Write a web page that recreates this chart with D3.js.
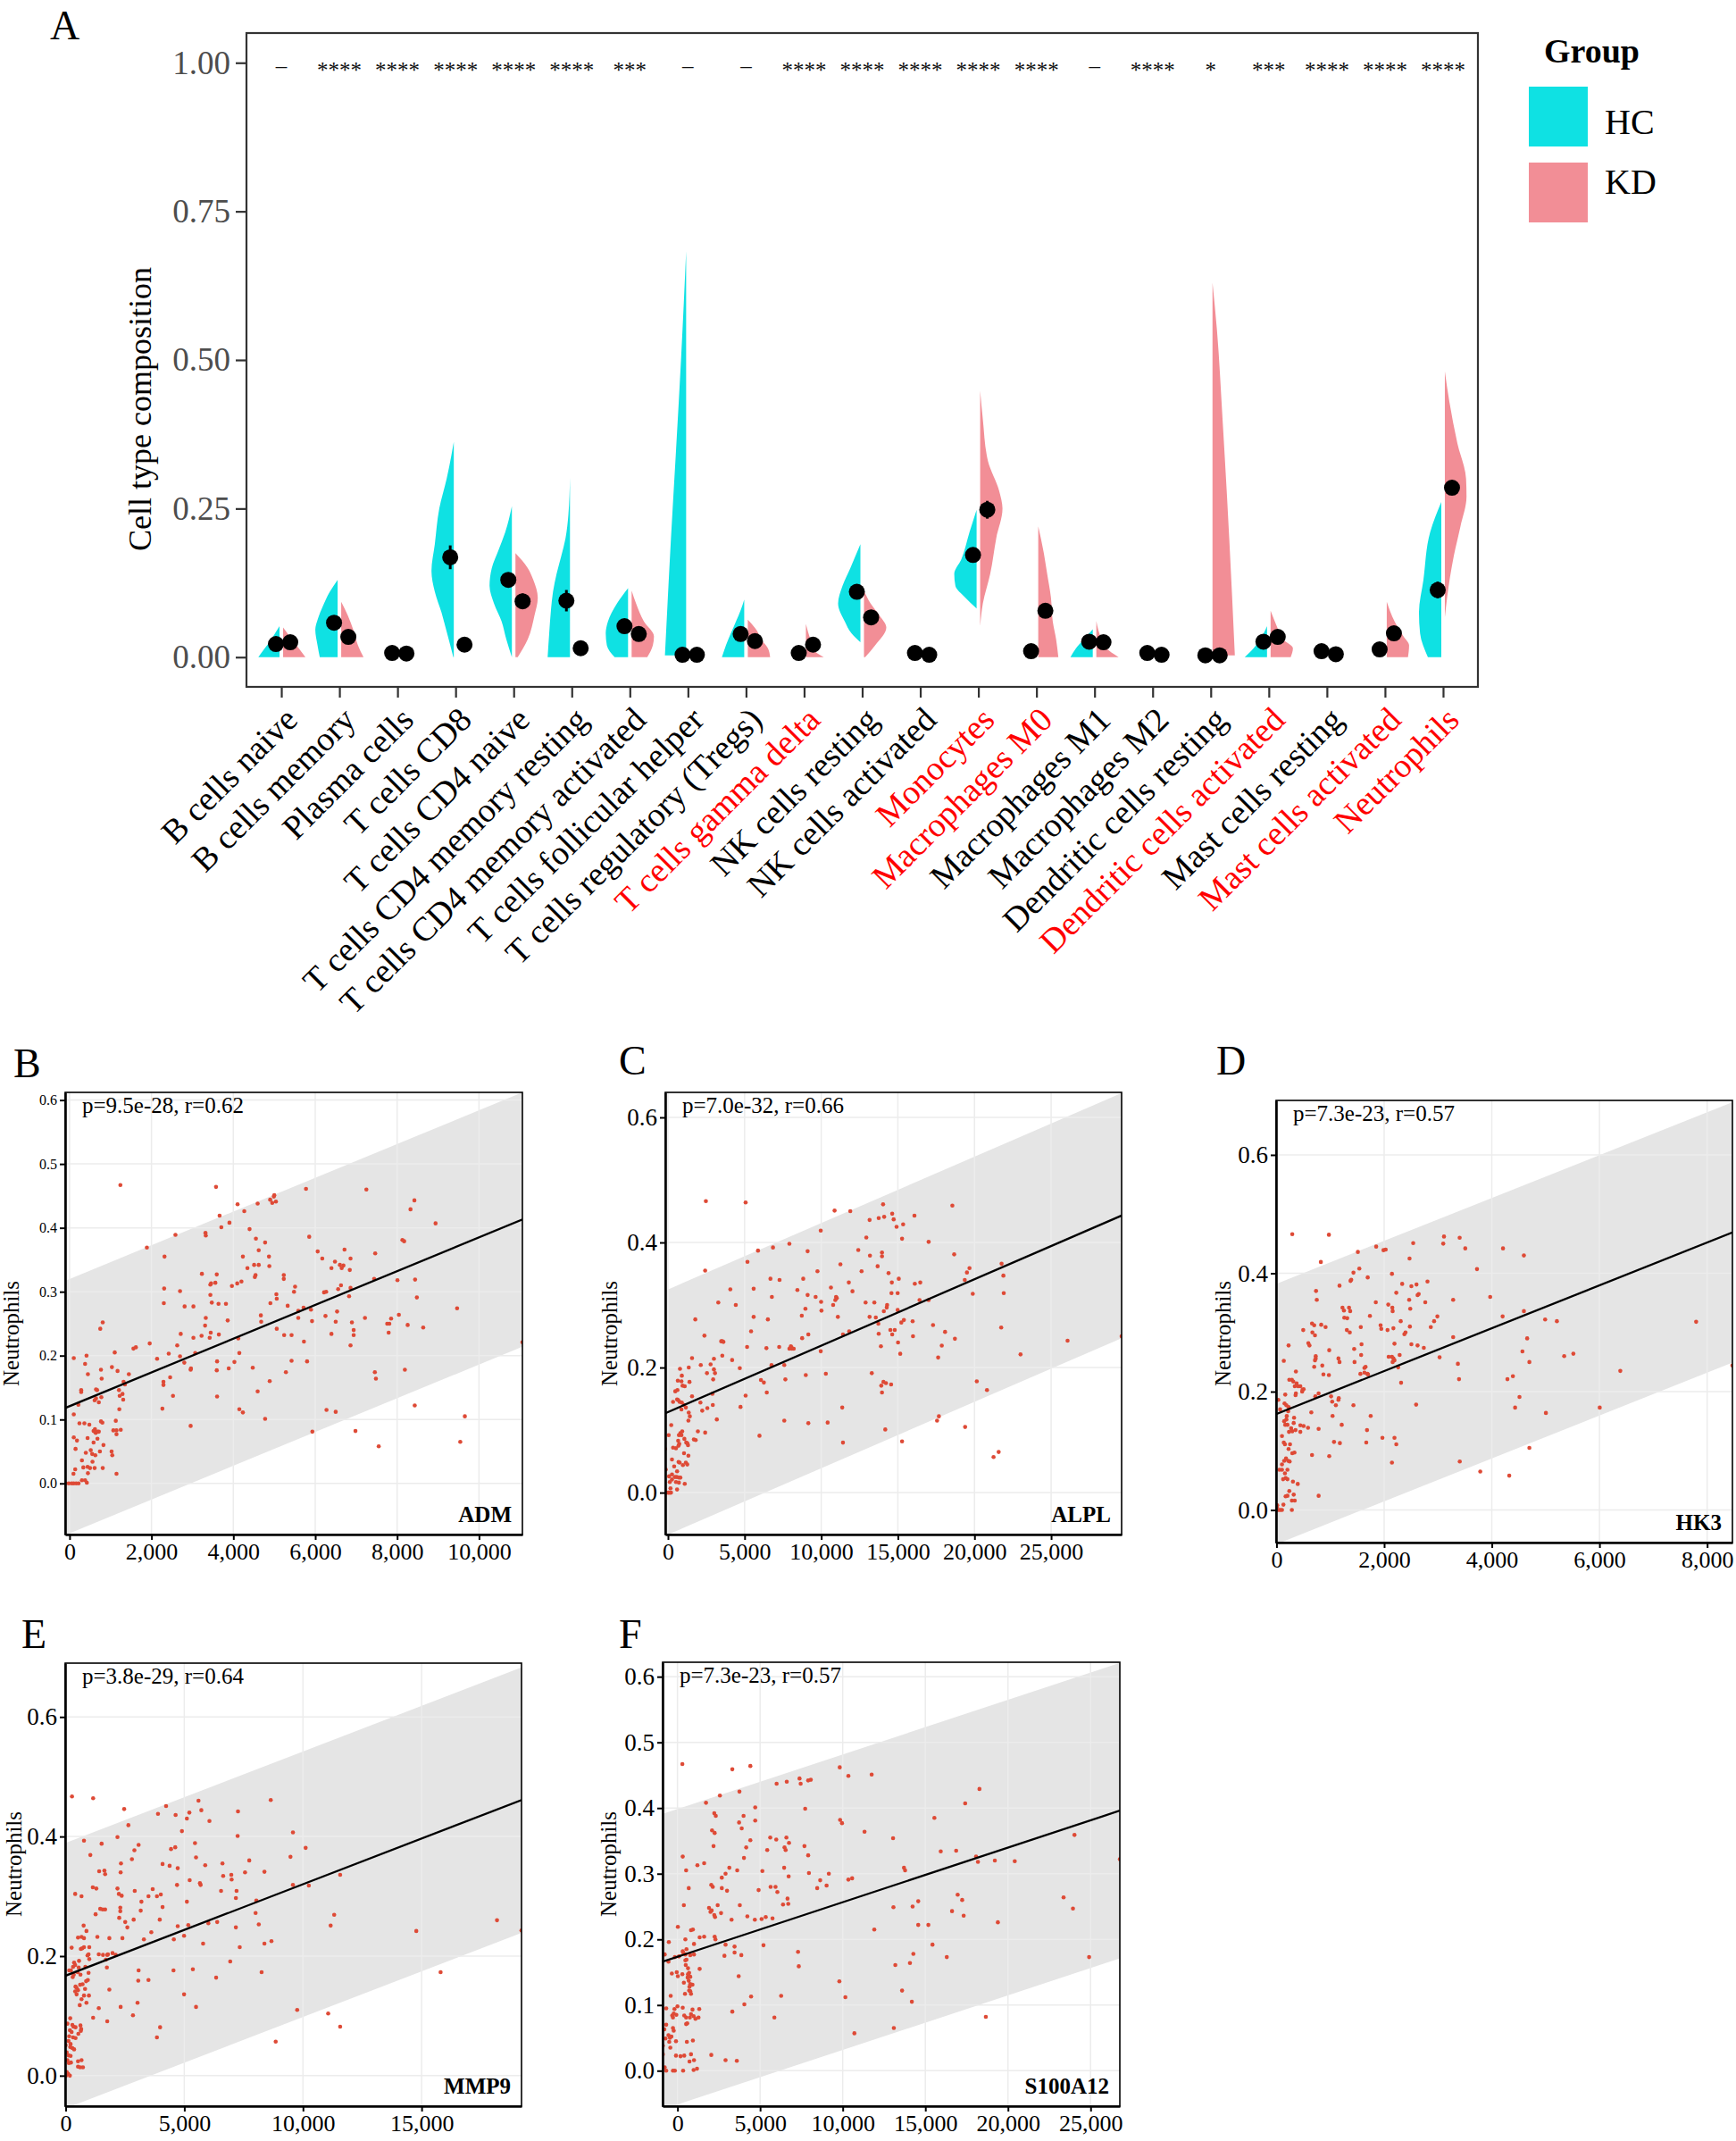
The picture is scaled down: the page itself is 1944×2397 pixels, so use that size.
<!DOCTYPE html>
<html>
<head>
<meta charset="utf-8">
<script src="https://cdn.jsdelivr.net/npm/d3@7"></script>
<style>
  body { margin: 0; background: #fff; }
  svg { display: block; }
  text { font-family: "Liberation Serif", "Times New Roman", serif; }
</style>
</head>
<body>
<svg id="fig" width="1944" height="2397"></svg>
<script>
// ---- panel A data ----
const cats = ["B cells naive", "B cells memory", "Plasma cells", "T cells CD8", "T cells CD4 naive",
  "T cells CD4 memory resting", "T cells CD4 memory activated", "T cells follicular helper",
  "T cells regulatory (Tregs)", "T cells gamma delta", "NK cells resting", "NK cells activated",
  "Monocytes", "Macrophages M0", "Macrophages M1", "Macrophages M2", "Dendritic cells resting",
  "Dendritic cells activated", "Mast cells resting", "Mast cells activated", "Neutrophils"];
const redCats = ["T cells gamma delta", "Monocytes", "Macrophages M0", "Dendritic cells activated",
  "Mast cells activated", "Neutrophils"];
const sigLabels = ["–", "****", "****", "****", "****", "****", "***", "–", "–", "****", "****",
  "****", "****", "****", "–", "****", "*", "***", "****", "****", "****"];
const groups = ["HC", "KD"];
const yTicksA = [0, 0.25, 0.5, 0.75, 1];

const hcMean = [0.022, 0.058, 0.007, 0.168, 0.130, 0.095, 0.052, 0.004, 0.039, 0.007, 0.110,
  0.007, 0.172, 0.010, 0.026, 0.007, 0.003, 0.026, 0.010, 0.013, 0.113];
const kdMean = [0.025, 0.034, 0.006, 0.021, 0.094, 0.015, 0.039, 0.004, 0.027, 0.021, 0.067,
  0.004, 0.248, 0.078, 0.025, 0.004, 0.003, 0.034, 0.005, 0.040, 0.285];
const hcErr = [0.003, 0.006, 0.001, 0.02, 0.012, 0.018, 0.005, 0.001, 0.005, 0.001, 0.008,
  0.001, 0.01, 0.001, 0.003, 0.001, 0.001, 0.003, 0.001, 0.002, 0.014];
const kdErr = [0.003, 0.004, 0.001, 0.003, 0.013, 0.002, 0.004, 0.001, 0.003, 0.003, 0.005,
  0.001, 0.015, 0.01, 0.003, 0.001, 0.001, 0.004, 0.001, 0.004, 0.012];

// half-violin outlines: [value, relative width]
const hcDens = [
  [[0, 0.95], [0.012, 0.72], [0.025, 0.45], [0.04, 0.2], [0.052, 0]],
  [[0, 0.8], [0.02, 0.9], [0.046, 1], [0.065, 0.88], [0.084, 0.68], [0.11, 0.35], [0.13, 0]],
  [],
  [[0, 0.02], [0.04, 0.3], [0.075, 0.55], [0.11, 0.85], [0.145, 1], [0.19, 0.85], [0.25, 0.65], [0.3, 0.32], [0.362, 0]],
  [[0, 0], [0.03, 0.25], [0.06, 0.46], [0.09, 0.8], [0.12, 1], [0.15, 0.9], [0.18, 0.6], [0.21, 0.3], [0.254, 0]],
  [[0, 1], [0.04, 0.93], [0.08, 0.85], [0.11, 0.76], [0.14, 0.6], [0.17, 0.39], [0.2, 0.2], [0.24, 0.07], [0.302, 0]],
  [[0, 0.6], [0.02, 0.95], [0.04, 1], [0.06, 0.9], [0.09, 0.5], [0.116, 0]],
  [[0.003, 0.95], [0.1, 0.82], [0.2, 0.68], [0.35, 0.45], [0.5, 0.23], [0.6, 0.1], [0.683, 0]],
  [[0, 1], [0.02, 0.82], [0.04, 0.6], [0.06, 0.37], [0.08, 0.15], [0.097, 0]],
  [],
  [[0.025, 0], [0.04, 0.4], [0.06, 0.7], [0.09, 1], [0.12, 0.8], [0.15, 0.45], [0.19, 0]],
  [],
  [[0.082, 0], [0.1, 0.5], [0.12, 0.95], [0.14, 1], [0.165, 0.68], [0.21, 0.32], [0.248, 0]],
  [],
  [[0, 1], [0.015, 0.75], [0.03, 0.4], [0.047, 0]],
  [],
  [],
  [[0, 1], [0.015, 0.6], [0.03, 0.3], [0.052, 0]],
  [],
  [],
  [[0, 0.6], [0.04, 0.95], [0.075, 1], [0.13, 0.8], [0.21, 0.5], [0.261, 0]]
];
const kdDens = [
  [[0, 1], [0.015, 0.7], [0.03, 0.4], [0.05, 0]],
  [[0, 1], [0.02, 0.75], [0.045, 0.55], [0.07, 0.3], [0.093, 0]],
  [],
  [],
  [[0, 0.1], [0.03, 0.55], [0.07, 0.85], [0.1, 1], [0.13, 0.8], [0.15, 0.55], [0.175, 0]],
  [],
  [[0, 0.7], [0.02, 0.95], [0.035, 1], [0.06, 0.55], [0.09, 0.2], [0.112, 0]],
  [],
  [[0, 1], [0.015, 0.9], [0.03, 0.6], [0.045, 0.4], [0.063, 0]],
  [[0, 0.8], [0.01, 0.4], [0.03, 0.2], [0.056, 0]],
  [[0, 0.05], [0.02, 0.5], [0.05, 1], [0.07, 0.7], [0.09, 0.3], [0.112, 0]],
  [],
  [[0.052, 0], [0.09, 0.12], [0.14, 0.45], [0.2, 0.72], [0.25, 1], [0.28, 0.85], [0.33, 0.35], [0.4, 0.12], [0.448, 0]],
  [[0, 0.9], [0.03, 0.8], [0.06, 0.65], [0.1, 0.57], [0.14, 0.4], [0.175, 0.25], [0.22, 0]],
  [[0, 1], [0.01, 0.6], [0.03, 0.25], [0.061, 0]],
  [],
  [[0.003, 1], [0.2, 0.75], [0.4, 0.45], [0.55, 0.2], [0.63, 0]],
  [[0, 0.9], [0.015, 1], [0.03, 0.55], [0.05, 0.3], [0.078, 0]],
  [],
  [[0, 0.95], [0.02, 1], [0.035, 0.75], [0.06, 0.35], [0.093, 0]],
  [[0.067, 0], [0.1, 0.1], [0.17, 0.4], [0.22, 0.7], [0.27, 0.97], [0.3, 0.95], [0.36, 0.56], [0.43, 0.2], [0.481, 0]]
];

// ---- scatter panels: [expression, Neutrophils] ----
const admPts = [[1241,.467],[3577,.464],[5775,.461],[7249,.46],[8422,.443],[8327,.429],[4900,.444],[4990,.449],[5000,.451],[4950,.439],[5040,.441],[4103,.437],[4594,.438],[4267,.426],[3664,.419],[3707,.401],[3905,.408],[4396,.398],[8939,.407],[3319,.392],[3327,.388],[2586,.389],[1888,.369],[4551,.383],[4776,.377],[5853,.386],[8129,.381],[8172,.379],[2319,.355],[4233,.355],[4870,.355],[4620,.365],[6060,.363],[6715,.366],[6172,.352],[6862,.352],[7465,.36],[4344,.337],[4508,.342],[4620,.342],[4879,.34],[6482,.347],[6603,.342],[6689,.341],[6646,.337],[6396,.337],[6844,.334],[3232,.328],[3595,.327],[4542,.326],[4525,.323],[5232,.326],[5232,.32],[8439,.319],[8008,.318],[7439,.32],[3457,.313],[3439,.311],[3560,.314],[4198,.316],[4095,.313],[3965,.309],[5508,.308],[6629,.31],[6862,.306],[2310,.305],[2698,.301],[6267,.3],[6215,.299],[5482,.3],[6560,.304],[6827,.293],[8482,.291],[5051,.296],[3439,.295],[2302,.282],[3474,.283],[3638,.281],[3819,.281],[2810,.277],[3025,.277],[4905,.282],[5327,.278],[5060,.289],[9465,.274],[5896,.272],[5586,.27],[5715,.275],[6534,.269],[8043,.264],[3327,.259],[5586,.259],[6250,.262],[4672,.263],[7853,.258],[7215,.259],[6896,.252],[7758,.25],[7810,.25],[4680,.253],[6500,.253],[3862,.255],[5922,.254],[810,.252],[3310,.247],[8258,.248],[8637,.244],[5060,.242],[6939,.24],[750,.242],[6396,.234],[7793,.236],[2715,.234],[3448,.236],[3646,.233],[5241,.232],[5422,.232],[3224,.231],[3422,.228],[3025,.228],[6939,.232],[4120,.227],[5724,.222],[6862,.216],[2629,.216],[1620,.213],[1560,.211],[1957,.219],[4146,.204],[3069,.204],[2422,.203],[1103,.205],[2698,.199],[414,.2],[103,.196],[2138,.195],[3603,.191],[5422,.192],[5801,.191],[2802,.189],[4026,.19],[379,.187],[4474,.181],[8189,.178],[3888,.18],[1034,.182],[767,.178],[2957,.178],[2965,.18],[1172,.176],[3595,.177],[7456,.174],[7482,.164],[5284,.174],[448,.171],[1448,.171],[784,.164],[2457,.166],[4888,.16],[1319,.159],[2293,.159],[2293,.154],[672,.146],[1353,.155],[284,.146],[284,.143],[646,.147],[1207,.146],[1293,.14],[1224,.137],[2526,.137],[3603,.136],[646,.133],[776,.135],[612,.13],[1310,.131],[715,.127],[4594,.144],[215,.123],[1215,.116],[2267,.117],[4146,.116],[4233,.111],[6275,.115],[6500,.112],[8430,.122],[103,.108],[9654,.105],[4776,.101],[767,.097],[802,.095],[1129,.098],[241,.094],[362,.094],[483,.092],[2957,.09],[620,.085],[1069,.083],[1146,.083],[1250,.084],[103,.072],[440,.071],[638,.079],[681,.081],[715,.081],[586,.082],[1146,.077],[5930,.081],[6982,.082],[181,.067],[586,.064],[681,.07],[146,.054],[9542,.065],[7551,.058],[828,.06],[397,.048],[517,.052],[552,.046],[629,.044],[741,.05],[1026,.05],[1043,.044],[302,.036],[560,.034],[336,.025],[440,.026],[500,.024],[612,.024],[810,.024],[138,.022],[95,.015],[448,.016],[1146,.015],[302,.005],[379,.005],[422,.001],[-100,0],[-20,0],[50,0],[100,0],[160,0],[220,0],[11060,.221]];

const alplPts = [[2474,.466],[5067,.464],[18556,.459],[14036,.461],[10872,.451],[11895,.45],[14631,.446],[14107,.441],[14727,.437],[16082,.443],[13156,.436],[13751,.439],[14916,.425],[15345,.429],[9968,.419],[15274,.406],[12942,.408],[17010,.401],[6852,.392],[7922,.398],[5876,.387],[9112,.386],[12418,.388],[13965,.384],[13965,.378],[18675,.381],[13180,.379],[5186,.369],[11252,.365],[13680,.362],[21768,.366],[19675,.359],[2427,.355],[9754,.354],[12633,.354],[14393,.351],[19508,.352],[21887,.347],[6686,.342],[8826,.342],[7280,.34],[15060,.342],[19365,.34],[11800,.336],[16106,.334],[16463,.336],[14607,.336],[4068,.325],[8445,.324],[10634,.328],[12038,.322],[5591,.326],[21910,.319],[19889,.318],[14988,.319],[14583,.319],[9112,.316],[9635,.313],[10967,.313],[11015,.311],[10920,.308],[6780,.313],[9992,.305],[12895,.304],[13466,.304],[10777,.3],[17010,.308],[16415,.308],[3283,.304],[4425,.3],[10015,.291],[14988,.292],[8969,.294],[14298,.3],[14274,.296],[14084,.29],[8731,.283],[5591,.281],[11086,.281],[13156,.281],[13561,.28],[15393,.276],[15226,.272],[6519,.277],[1784,.277],[15964,.274],[17296,.268],[21744,.264],[13727,.27],[5424,.258],[11824,.258],[11419,.253],[14512,.26],[14797,.26],[14631,.253],[13751,.254],[18080,.257],[15988,.25],[2379,.251],[9159,.253],[18723,.246],[8755,.247],[26074,.243],[29600,.25],[3545,.242],[3473,.242],[3616,.241],[5162,.233],[6423,.231],[7256,.233],[8017,.234],[8065,.232],[8089,.23],[8207,.23],[7922,.23],[9968,.226],[13894,.234],[15012,.24],[17867,.235],[23005,.221],[15155,.222],[17629,.216],[3545,.219],[4187,.212],[1570,.215],[2141,.204],[2783,.205],[6757,.204],[4687,.199],[7589,.204],[1356,.2],[785,.198],[2998,.214],[2998,.197],[3069,.191],[2545,.191],[8993,.188],[10301,.19],[13299,.191],[904,.187],[642,.179],[880,.178],[2950,.181],[7660,.181],[6067,.18],[6257,.176],[20150,.178],[14226,.175],[14060,.177],[14560,.173],[13918,.171],[13965,.16],[20816,.164],[950,.171],[1094,.17],[1404,.177],[476,.162],[619,.164],[666,.148],[595,.149],[333,.145],[1570,.154],[2902,.158],[2117,.144],[2236,.131],[2926,.14],[6447,.16],[5067,.155],[761,.145],[904,.144],[1047,.14],[1166,.136],[880,.133],[2569,.135],[4734,.137],[11371,.136],[1356,.128],[1427,.122],[1332,.115],[3188,.117],[7589,.115],[9159,.111],[10420,.112],[17558,.115],[17677,.122],[19389,.105],[14179,.101],[214,.108],[809,.095],[880,.092],[714,.092],[48,.092],[928,.098],[1951,.098],[2427,.096],[5971,.091],[1689,.085],[1808,.084],[1071,.086],[1190,.08],[1261,.079],[666,.083],[738,.078],[690,.075],[-238,.079],[1308,.076],[15274,.082],[11419,.08],[333,.072],[523,.071],[1047,.063],[1332,.059],[-190,.07],[21578,.065],[21245,.057],[690,.049],[761,.048],[1166,.048],[1261,.045],[975,.044],[262,.053],[404,.042],[595,.034],[-143,.037],[262,.029],[452,.025],[571,.025],[714,.024],[809,.024],[71,.026],[262,.021],[523,.017],[1094,.014],[714,.016],[595,.005],[119,.017],[166,.007],[-100,0],[0,0],[60,0],[130,0],[200,0]];

const hk3Pts = [[293,.466],[974,.465],[3403,.46],[3112,.462],[1852,.445],[1988,.439],[2029,.44],[2540,.451],[3098,.45],[3507,.442],[4208,.442],[4596,.43],[1512,.436],[2472,.425],[824,.419],[1539,.408],[1430,.401],[3725,.407],[2145,.399],[1695,.393],[1389,.389],[1375,.387],[2335,.382],[2601,.381],[2506,.378],[2805,.386],[1171,.379],[735,.37],[749,.355],[1845,.351],[2764,.351],[2465,.355],[3282,.355],[3970,.36],[2077,.347],[2642,.365],[2621,.363],[2226,.367],[1253,.337],[1348,.342],[1226,.342],[1260,.325],[1314,.324],[1369,.336],[1736,.328],[2152,.342],[2158,.336],[2485,.34],[1934,.312],[2063,.304],[2172,.307],[2308,.319],[2478,.31],[1566,.309],[831,.313],[912,.309],[660,.315],[701,.312],[497,.304],[1307,.304],[1362,.3],[1947,.306],[2376,.297],[2397,.3],[2867,.309],[2928,.319],[2989,.327],[4201,.327],[4596,.336],[4991,.322],[5209,.319],[3282,.292],[4657,.29],[667,.3],[715,.295],[592,.282],[613,.278],[1580,.28],[2506,.28],[2192,.281],[2621,.278],[2737,.274],[1443,.272],[980,.27],[225,.278],[1573,.262],[2084,.259],[2145,.259],[2172,.256],[2192,.253],[2288,.262],[3030,.258],[4569,.268],[5345,.26],[5515,.264],[729,.26],[729,.256],[715,.253],[701,.242],[1151,.256],[1171,.25],[1450,.25],[136,.252],[851,.244],[1655,.242],[1634,.24],[1689,.23],[2158,.25],[2261,.241],[4698,.25],[3370,.247],[1634,.232],[1702,.229],[361,.234],[872,.229],[974,.228],[1559,.23],[6387,.235],[3391,.221],[4290,.221],[4392,.226],[238,.22],[286,.22],[313,.217],[340,.209],[402,.209],[374,.214],[443,.209],[504,.204],[483,.203],[477,.2],[361,.197],[354,.194],[163,.195],[783,.197],[722,.192],[1015,.192],[1035,.183],[1151,.186],[1157,.189],[1103,.177],[1430,.177],[2315,.215],[2594,.178],[4514,.191],[4433,.173],[6005,.173],[5005,.164],[34,.186],[68,.17],[150,.18],[184,.177],[225,.174],[218,.167],[191,.159],[647,.165],[327,.156],[320,.147],[143,.15],[163,.144],[204,.144],[184,.153],[443,.143],[443,.132],[504,.142],[586,.139],[272,.138],[293,.133],[354,.135],[232,.132],[783,.137],[1042,.159],[1212,.144],[1682,.135],[2192,.122],[1069,.115],[1178,.113],[1668,.114],[2226,.111],[102,.125],[136,.114],[157,.111],[252,.111],[293,.096],[334,.097],[225,.103],[177,.087],[218,.083],[245,.082],[143,.083],[102,.077],[102,.068],[54,.068],[204,.068],[157,.062],[170,.054],[204,.052],[123,.052],[306,.048],[395,.044],[238,.032],[170,.023],[204,.024],[286,.016],[340,.016],[320,.026],[783,.024],[660,.093],[980,.091],[1750,.159],[1968,.122],[2145,.08],[3405,.082],[3786,.065],[4324,.058],[4698,.105],[7796,.318],[8470,.244],[14,.008],[34,0],[68,0],[102,0],[286,0],[129,.009],[7,.005]];

const mmp9Pts = [[267,.467],[1158,.464],[8643,.461],[5598,.46],[4232,.451],[2465,.446],[5212,.44],[5717,.444],[7262,.442],[3891,.438],[4633,.436],[5108,.43],[6059,.426],[2643,.419],[4900,.409],[9578,.407],[7247,.401],[2183,.399],[772,.393],[1515,.388],[3074,.386],[5450,.389],[4618,.382],[4440,.379],[2896,.377],[10113,.381],[1040,.369],[5494,.365],[9474,.366],[2792,.362],[7737,.36],[4084,.354],[4381,.351],[2331,.355],[6608,.355],[5881,.352],[4722,.347],[8376,.341],[7559,.34],[1411,.342],[1633,.343],[1663,.337],[2317,.34],[5227,.327],[5658,.322],[5687,.319],[4693,.319],[6638,.334],[6980,.336],[6994,.328],[11568,.336],[9578,.319],[10247,.318],[7202,.309],[7173,.297],[1143,.315],[1292,.313],[2183,.313],[2911,.309],[2242,.304],[2361,.301],[3668,.312],[4010,.303],[3846,.3],[3490,.3],[5108,.291],[3193,.291],[6549,.309],[8034,.293],[401,.304],[668,.3],[1262,.27],[1663,.278],[1559,.278],[1455,.279],[2302,.281],[2302,.275],[3163,.276],[4084,.282],[2257,.264],[2866,.261],[2510,.257],[2599,.248],[8004,.272],[7173,.248],[8138,.253],[11167,.251],[11316,.269],[18177,.26],[14776,.242],[19210,.243],[4722,.25],[5168,.252],[6014,.255],[6386,.257],[3965,.261],[3609,.24],[757,.251],[520,.231],[668,.232],[772,.23],[876,.242],[1336,.232],[1841,.23],[2391,.23],[995,.215],[698,.213],[772,.215],[639,.212],[252,.214],[921,.201],[995,.195],[965,.203],[3297,.228],[4559,.228],[4990,.234],[5792,.221],[7336,.215],[6935,.191],[8376,.221],[8672,.225],[2109,.202],[1975,.205],[1574,.202],[1752,.202],[1782,.203],[1693,.194],[1737,.181],[1396,.203],[564,.192],[356,.189],[401,.185],[312,.182],[223,.176],[549,.181],[831,.182],[505,.173],[624,.169],[965,.172],[148,.176],[297,.165],[341,.169],[713,.153],[861,.158],[935,.16],[416,.149],[520,.143],[460,.136],[668,.128],[772,.134],[980,.134],[401,.141],[460,.147],[594,.118],[876,.122],[817,.145],[609,.152],[1396,.113],[1841,.144],[3074,.176],[3490,.16],[3059,.159],[4544,.176],[5360,.178],[6341,.164],[8257,.173],[4990,.136],[5494,.115],[2317,.115],[3029,.122],[1158,.097],[1752,.091],[2836,.101],[9756,.11],[11063,.104],[11568,.082],[8851,.057],[15800,.173],[3846,.064],[3980,.081],[193,.096],[282,.085],[178,.076],[252,.073],[416,.081],[327,.082],[535,.07],[653,.078],[624,.084],[639,.075],[74,.087],[312,.064],[416,.063],[148,.066],[119,.058],[208,.053],[0,.051],[193,.048],[282,.046],[356,.044],[45,.039],[119,.034],[208,.033],[74,.026],[134,.021],[223,.022],[520,.024],[668,.026],[520,.015],[609,.014],[728,.014],[45,.006],[104,.003],[178,0],[15,0],[-20,0]];

const s100a12Pts = [[295,.467],[3318,.459],[4410,.464],[9820,.462],[10343,.449],[11752,.451],[7387,.445],[7455,.437],[7910,.442],[8069,.443],[6000,.437],[6614,.44],[18275,.429],[3750,.425],[2568,.419],[1727,.408],[17411,.407],[7728,.399],[4705,.401],[4000,.388],[2227,.392],[2318,.388],[9842,.382],[9956,.377],[15547,.385],[3728,.378],[4705,.381],[2091,.366],[3887,.369],[11320,.364],[2250,.362],[13047,.354],[24025,.359],[5614,.355],[5978,.352],[4410,.351],[6592,.355],[4160,.34],[5432,.336],[2182,.342],[6478,.34],[6546,.336],[6750,.347],[7683,.342],[15933,.334],[16866,.335],[318,.326],[4023,.324],[7910,.328],[18070,.326],[18184,.318],[19207,.32],[20411,.319],[26770,.322],[13706,.309],[13774,.305],[1614,.316],[1205,.313],[3137,.309],[523,.305],[3614,.305],[6455,.309],[5137,.304],[7955,.301],[9160,.3],[2909,.3],[6728,.296],[10343,.291],[10570,.293],[8637,.29],[2682,.294],[9024,.282],[2046,.283],[2137,.28],[3000,.274],[2682,.278],[4910,.275],[5637,.28],[5933,.28],[6046,.272],[8455,.278],[682,.278],[16957,.268],[17229,.26],[23366,.264],[6660,.262],[6705,.254],[6387,.253],[3773,.252],[2432,.252],[1909,.248],[2068,.244],[2000,.242],[2637,.24],[386,.252],[13070,.249],[14229,.25],[14570,.258],[16616,.243],[17320,.236],[23934,.247],[2227,.237],[2273,.234],[4228,.235],[5341,.234],[5091,.231],[5751,.232],[3273,.23],[4682,.23],[2250,.204],[2296,.2],[1614,.204],[23,.219],[818,.214],[932,.215],[477,.2],[1341,.203],[1000,.193],[545,.185],[341,.18],[477,.177],[318,.182],[773,.176],[1000,.177],[2909,.192],[3455,.189],[3455,.18],[3864,.176],[5205,.191],[2841,.175],[7296,.181],[7341,.159],[13183,.161],[14070,.164],[14275,.178],[11910,.215],[14570,.222],[15183,.222],[15433,.192],[16297,.173],[19389,.226],[24911,.173],[9797,.136],[13592,.122],[14183,.105],[10160,.112],[10706,.057],[13093,.065],[18661,.082],[5864,.081],[6273,.114],[4455,.113],[3705,.144],[4046,.101],[3318,.09],[1341,.155],[636,.156],[500,.161],[545,.169],[477,.168],[-159,.173],[91,.174],[-545,.166],[-773,.177],[-523,.196],[-45,.15],[23,.144],[-341,.148],[295,.147],[682,.137],[773,.143],[705,.149],[636,.147],[727,.128],[773,.132],[705,.122],[818,.117],[773,.121],[455,.117],[386,.134],[614,.142],[909,.131],[-409,.114],[-682,.095],[0,.098],[-68,.085],[318,.096],[409,.084],[523,.081],[591,.072],[-318,.084],[-273,.081],[-227,.087],[-182,.094],[-273,.065],[-227,.061],[977,.083],[750,.081],[1091,.079],[1273,.081],[1318,.094],[523,.071],[818,.086],[909,.093],[-682,.07],[-795,.063],[-545,.054],[-455,.05],[-364,.052],[-500,.044],[-432,.035],[-727,.049],[-886,.038],[-886,.025],[-91,.045],[568,.044],[932,.046],[1000,.016],[727,.014],[-91,.023],[182,.022],[409,.023],[818,.025],[1182,.003],[977,.001],[2046,.024],[2909,.016],[3591,.015],[-773,.005],[-682,0],[-273,0],[-159,0],[341,0]];

// regression line end points and half width of the prediction band
const admFit = {p0: [-107, 0.118], p1: [11060, 0.413], band: 0.199};
const alplFit = {p0: [-175, 0.127], p1: [29600, 0.443], band: 0.196};
const hk3Fit = {p0: [-7, 0.162], p1: [8470, 0.469], band: 0.22};
const mmp9Fit = {p0: [-20, 0.167], p1: [19210, 0.461], band: 0.222};
const s100a12Fit = {p0: [-900, 0.166], p1: [26770, 0.396], band: 0.225};

const panels = [
  {id: "B", gene: "ADM", pts: admPts, fit: admFit, stat: "p=9.5e-28, r=0.62",
   xTicks: [0, 2000, 4000, 6000, 8000, 10000], yTicks: [0, 0.1, 0.2, 0.3, 0.4, 0.5, 0.6]},
  {id: "C", gene: "ALPL", pts: alplPts, fit: alplFit, stat: "p=7.0e-32, r=0.66",
   xTicks: [0, 5000, 10000, 15000, 20000, 25000], yTicks: [0, 0.2, 0.4, 0.6]},
  {id: "D", gene: "HK3", pts: hk3Pts, fit: hk3Fit, stat: "p=7.3e-23, r=0.57",
   xTicks: [0, 2000, 4000, 6000, 8000], yTicks: [0, 0.2, 0.4, 0.6]},
  {id: "E", gene: "MMP9", pts: mmp9Pts, fit: mmp9Fit, stat: "p=3.8e-29, r=0.64",
   xTicks: [0, 5000, 10000, 15000], yTicks: [0, 0.2, 0.4, 0.6]},
  {id: "F", gene: "S100A12", pts: s100a12Pts, fit: s100a12Fit, stat: "p=7.3e-23, r=0.57",
   xTicks: [0, 5000, 10000, 15000, 20000, 25000], yTicks: [0, 0.1, 0.2, 0.3, 0.4, 0.5, 0.6]}
];

// ---- layout ----
const layout = {
  B: {l: 73, t: 1223, r: 585, b: 1718, xd: [-107, 11060], yd: [-0.08, 0.612], yFont: 16, letter: [15, 1206], yt: [21, 1493]},
  C: {l: 745, t: 1223, r: 1256, b: 1718, xd: [-175, 29600], yd: [-0.067, 0.64], yFont: 27, letter: [693, 1203], yt: [691, 1493]},
  D: {l: 1429, t: 1232, r: 1940, b: 1727, xd: [-7, 8470], yd: [-0.055, 0.692], yFont: 27, letter: [1362, 1203], yt: [1378, 1493]},
  E: {l: 73, t: 1862, r: 584, b: 2358, xd: [-20, 19210], yd: [-0.051, 0.69], yFont: 27, letter: [24, 1845], yt: [24, 2087]},
  F: {l: 742, t: 1861, r: 1254, b: 2358, xd: [-900, 26770], yd: [-0.054, 0.622], yFont: 27, letter: [693, 1845], yt: [690, 2087]}
};
const hcColor = "#0fe1e3", kdColor = "#f28e96";

const svg = d3.select("#fig");

// ================= panel A =================
const A = {l: 276, t: 37, r: 1655, b: 769};
const xA = d3.scalePoint().domain(cats).range([A.l, A.r]).padding(0.6);
const yA = d3.scaleLinear().domain([-0.05, 1.05]).range([A.b, A.t]);
const gA = svg.append("g");

svg.append("text").attr("x", 56).attr("y", 44).attr("font-size", 46).text("A");

const maxW = 25, gap = 2;
cats.forEach((c, i) => {
  const cx = xA(c);
  if (hcDens[i].length) {
    gA.append("path").datum(hcDens[i])
      .attr("d", d3.area().curve(d3.curveMonotoneY)
        .y(d => yA(d[0])).x0(d => cx - gap - d[1] * maxW).x1(cx - gap))
      .attr("fill", hcColor);
  }
  if (kdDens[i].length) {
    gA.append("path").datum(kdDens[i])
      .attr("d", d3.area().curve(d3.curveMonotoneY)
        .y(d => yA(d[0])).x0(cx + gap).x1(d => cx + gap + d[1] * maxW))
      .attr("fill", kdColor);
  }
});

// mean +- error and dots
const dotOff = {HC: -6, KD: 10};
const dots = [];
cats.forEach((c, i) => {
  dots.push({c: c, g: "HC", m: hcMean[i], e: hcErr[i]});
  dots.push({c: c, g: "KD", m: kdMean[i], e: kdErr[i]});
});
gA.selectAll(".err").data(dots).join("line")
  .attr("x1", d => xA(d.c) + dotOff[d.g]).attr("x2", d => xA(d.c) + dotOff[d.g])
  .attr("y1", d => yA(d.m - d.e)).attr("y2", d => yA(d.m + d.e))
  .attr("stroke", "#000").attr("stroke-width", 3);
gA.selectAll(".dot").data(dots).join("circle")
  .attr("cx", d => xA(d.c) + dotOff[d.g]).attr("cy", d => yA(d.m))
  .attr("r", 9).attr("fill", "#000");

// significance
gA.selectAll(".sig").data(cats).join("text")
  .attr("x", d => xA(d)).attr("y", (d, i) => yA(1) + (sigLabels[i] === "–" ? 12 : 17))
  .attr("text-anchor", "middle").attr("font-size", 25).attr("fill", "#111")
  .text((d, i) => sigLabels[i]);

// axes
const yAxisA = gA.append("g").attr("transform", `translate(${A.l},0)`)
  .call(d3.axisLeft(yA).tickValues(yTicksA).tickFormat(d3.format(".2f")).tickSize(12).tickPadding(6));
yAxisA.select(".domain").remove();
yAxisA.selectAll("line").attr("stroke", "#333").attr("stroke-width", 2.2);
yAxisA.selectAll("text").attr("font-size", 37).attr("fill", "#4d4d4d")
  .attr("font-family", '"Liberation Serif", serif');

const xAxisA = gA.append("g").attr("transform", `translate(0,${A.b})`)
  .call(d3.axisBottom(xA).tickSize(12).tickFormat(""));
xAxisA.select(".domain").remove();
xAxisA.selectAll("line").attr("stroke", "#333").attr("stroke-width", 2.2);

gA.selectAll(".xlab").data(cats).join("text")
  .attr("transform", d => `translate(${xA(d) + 1},${A.b + 20}) rotate(-45)`)
  .attr("text-anchor", "end").attr("dy", "0.71em").attr("font-size", 38)
  .attr("fill", d => redCats.includes(d) ? "#ff0000" : "#000")
  .text(d => d);

gA.append("rect").attr("x", A.l).attr("y", A.t).attr("width", A.r - A.l).attr("height", A.b - A.t)
  .attr("fill", "none").attr("stroke", "#333").attr("stroke-width", 2.2);

svg.append("text").attr("transform", `translate(169,${(yA(0) + yA(1)) / 2 + 55}) rotate(-90)`)
  .attr("text-anchor", "middle").attr("font-size", 36).text("Cell type composition");

// legend
const leg = svg.append("g");
leg.append("text").attr("x", 1729).attr("y", 70).attr("font-size", 38).attr("font-weight", "bold").text("Group");
leg.selectAll("rect").data(groups).join("rect")
  .attr("x", 1712).attr("y", (d, i) => 97 + i * 85).attr("width", 66).attr("height", 67)
  .attr("fill", d => d === "HC" ? hcColor : kdColor);
leg.selectAll(".lt").data(groups).join("text")
  .attr("x", 1797).attr("y", (d, i) => 150 + i * 67).attr("font-size", 40).text(d => d);

// ================= scatter panels =================
function drawScatter(p) {
  const L = layout[p.id];
  const x = d3.scaleLinear().domain(L.xd).range([L.l, L.r]);
  const y = d3.scaleLinear().domain(L.yd).range([L.b, L.t]);
  const g = svg.append("g");

  g.append("clipPath").attr("id", "clip" + p.id).append("rect")
    .attr("x", L.l).attr("y", L.t).attr("width", L.r - L.l).attr("height", L.b - L.t);
  const inner = g.append("g").attr("clip-path", `url(#clip${p.id})`);

  const line = [p.fit.p0, p.fit.p1];
  inner.append("path").datum(line)
    .attr("d", d3.area().x(d => x(d[0])).y0(d => y(d[1] - p.fit.band)).y1(d => y(d[1] + p.fit.band)))
    .attr("fill", "#e5e5e5");

  inner.selectAll(".gx").data(p.xTicks).join("line")
    .attr("x1", d => x(d)).attr("x2", d => x(d)).attr("y1", L.t).attr("y2", L.b)
    .attr("stroke", "#ececec").attr("stroke-width", 1.5);
  inner.selectAll(".gy").data(p.yTicks).join("line")
    .attr("y1", d => y(d)).attr("y2", d => y(d)).attr("x1", L.l).attr("x2", L.r)
    .attr("stroke", "#ececec").attr("stroke-width", 1.5);

  inner.selectAll(".pt").data(p.pts).join("circle")
    .attr("cx", d => x(d[0])).attr("cy", d => y(d[1])).attr("r", 2.3)
    .attr("fill", "#de4a36");

  inner.append("path").datum(line)
    .attr("d", d3.line().x(d => x(d[0])).y(d => y(d[1])))
    .attr("stroke", "#000").attr("stroke-width", 2.3).attr("fill", "none");

  g.append("rect").attr("x", L.l).attr("y", L.t).attr("width", L.r - L.l).attr("height", L.b - L.t)
    .attr("fill", "none").attr("stroke", "#000").attr("stroke-width", 1.6);

  const ax = g.append("g").attr("transform", `translate(0,${L.b})`)
    .call(d3.axisBottom(x).tickValues(p.xTicks).tickFormat(d3.format(",")).tickSize(6).tickSizeOuter(0).tickPadding(4));
  ax.select(".domain").attr("stroke-width", 2.6);
  ax.selectAll("line").attr("stroke-width", 2);
  ax.selectAll("text").attr("font-size", 26).attr("font-family", '"Liberation Serif", serif').attr("fill", "#000");

  const ay = g.append("g").attr("transform", `translate(${L.l},0)`)
    .call(d3.axisLeft(y).tickValues(p.yTicks).tickFormat(d3.format(".1f")).tickSize(6).tickSizeOuter(0).tickPadding(3));
  ay.select(".domain").attr("stroke-width", 2.6);
  ay.selectAll("line").attr("stroke-width", 2);
  ay.selectAll("text").attr("font-size", L.yFont).attr("font-family", '"Liberation Serif", serif').attr("fill", "#000");

  g.append("text").attr("x", L.l + 19).attr("y", L.t + 23).attr("font-size", 25).text(p.stat);
  g.append("text").attr("x", L.r - 12).attr("y", L.b - 14).attr("text-anchor", "end")
    .attr("font-size", 25).attr("font-weight", "bold").text(p.gene);
  g.append("text").attr("transform", `translate(${L.yt[0]},${L.yt[1]}) rotate(-90)`)
    .attr("text-anchor", "middle").attr("font-size", 25).text("Neutrophils");
  g.append("text").attr("x", L.letter[0]).attr("y", L.letter[1]).attr("font-size", 46).text(p.id);
}

panels.forEach(drawScatter);
</script>
</body>
</html>
